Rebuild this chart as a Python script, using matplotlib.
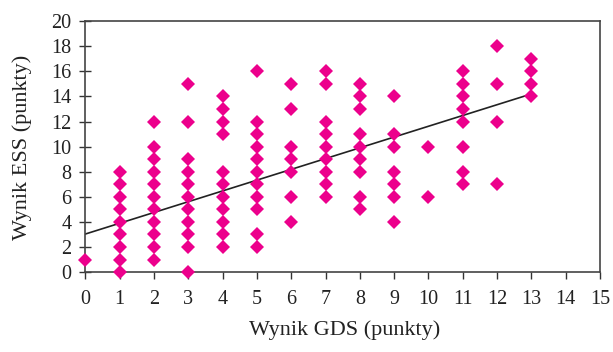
import matplotlib
matplotlib.use("Agg")
import matplotlib.pyplot as plt
import numpy as np

# GDS score (x) and ESS score (y) pairs, grouped by GDS value
gds_groups = [0, 1, 2, 3, 4, 5, 6, 7, 8, 9, 10, 11, 12, 13]
ess_by_gds = [
    [1],
    [0, 1, 2, 3, 4, 5, 6, 7, 8],
    [1, 2, 3, 4, 5, 6, 7, 8, 9, 10, 12],
    [0, 2, 3, 4, 5, 6, 7, 8, 9, 12, 15],
    [2, 3, 4, 5, 6, 7, 8, 11, 12, 13, 14],
    [2, 3, 5, 6, 7, 8, 9, 10, 11, 12, 16],
    [4, 6, 8, 9, 10, 13, 15],
    [6, 7, 8, 9, 10, 11, 12, 15, 16],
    [5, 6, 8, 9, 10, 11, 13, 14, 15],
    [4, 6, 7, 8, 10, 11, 14],
    [6, 10],
    [7, 8, 10, 12, 13, 14, 15, 16],
    [7, 12, 15, 18],
    [14, 15, 16, 17],
]

# Trend line
trend_x = [0, 13]
trend_y = [3.03, 14.2]

x_ticks = list(range(0, 16))
y_ticks = list(range(0, 21, 2))

xs = [g for g, vals in zip(gds_groups, ess_by_gds) for _ in vals]
ys = [v for vals in ess_by_gds for v in vals]

plt.rcParams['font.family'] = ['Liberation Serif', 'DejaVu Serif']

fig = plt.figure(figsize=(6.13, 3.52), dpi=100)
ax = fig.add_axes([0.139, 0.227, 0.840, 0.713])

ax.plot(xs, ys, linestyle='none', marker='D', markersize=7.6,
        color='#EC008C', markeredgewidth=0, zorder=3, clip_on=False)
ax.plot(trend_x, trend_y, color='#222222', linewidth=1.2, zorder=2)

ax.set_xlim(0, 15)
ax.set_ylim(0, 20)
ax.set_xticks(x_ticks)
ax.set_yticks(y_ticks)
ax.tick_params(axis='x', direction='out', length=5, width=1,
               color='#333333', labelsize=14.5, labelcolor='#222222', pad=8)
ax.tick_params(axis='y', direction='inout', length=8, width=1,
               color='#333333', labelsize=14.5, labelcolor='#222222', pad=6)
for sp in ax.spines.values():
    sp.set_color('#444444')
    sp.set_linewidth(1.2)

ax.set_xlabel('Wynik GDS (punkty)', fontsize=16, color='#222222')
ax.set_ylabel('Wynik ESS (punkty)', fontsize=16, color='#222222')
ax.xaxis.set_label_coords(0.503, -0.231, transform=ax.transAxes)
ax.yaxis.set_label_coords(-0.122, 0.498, transform=ax.transAxes)
ax.xaxis.label.set_va('center')
ax.yaxis.label.set_va('center')

fig.savefig('out.png', dpi=100)
